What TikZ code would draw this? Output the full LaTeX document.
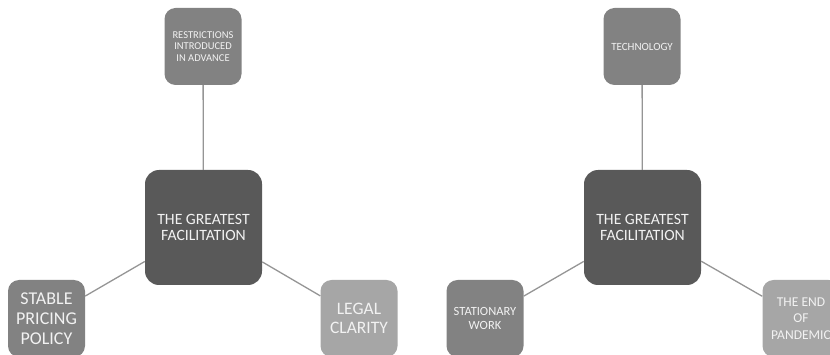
\documentclass[tikz,border=0pt]{standalone}
\usepackage{fontspec}
\setmainfont{Carlito}
\usetikzlibrary{positioning}
\definecolor{hubgray}{HTML}{595959}
\definecolor{midgray}{HTML}{828282}
\definecolor{palegray}{HTML}{A6A6A6}
\definecolor{linkgray}{HTML}{959595}
\definecolor{labelwhite}{HTML}{F2F2F2}

\tikzset{
  hub/.style={fill=hubgray, rounded corners=14pt, minimum width=117pt, minimum height=115pt,
    inner sep=0pt, text=labelwhite, align=center, font=\fontsize{15.7}{16}\selectfont},
  factor/.style={rounded corners=11pt, minimum width=77pt, minimum height=77pt,
    inner sep=0pt, text=labelwhite, align=center},
  link/.style={draw=linkgray, line width=1.3pt}
}

\begin{document}
\begin{tikzpicture}[x=1pt,y=-1pt]
  \useasboundingbox (0,0) rectangle (830,355);
  \clip (0,0) rectangle (830,355);

  % left group
  \node[hub] (hubL) at (203.5,227.5) {THE GREATEST\\FACILITATION};
  \node[factor, fill=midgray, font=\fontsize{10.5}{11.5}\selectfont] (restr) at (203,46.5)
    {RESTRICTIONS\\INTRODUCED\\IN ADVANCE};
  \node[factor, fill=midgray, font=\fontsize{18}{20}\selectfont] (pricing) at (46.5,318.5)
    {STABLE\\PRICING\\POLICY};
  \node[factor, fill=palegray, font=\fontsize{17.5}{19}\selectfont] (legal) at (359,318.5)
    {LEGAL\\CLARITY};

  \draw[link] (hubL) -- (restr);
  \draw[link] (hubL) -- (pricing);
  \draw[link] (hubL) -- (legal);

  % right group
  \node[hub] (hubR) at (642.5,227.5) {THE GREATEST\\FACILITATION};
  \node[factor, fill=midgray, font=\fontsize{11}{12}\selectfont] (tech) at (642,46.5)
    {TECHNOLOGY};
  \node[factor, fill=midgray, font=\fontsize{12.5}{13.5}\selectfont] (stat) at (485,318.5)
    {STATIONARY\\WORK};
  \node[factor, fill=palegray, font=\fontsize{13.5}{16.5}\selectfont] (pandemic) at (801,318.5)
    {THE END\\OF\\PANDEMIC};

  \draw[link] (hubR) -- (tech);
  \draw[link] (hubR) -- (stat);
  \draw[link] (hubR) -- (pandemic);
\end{tikzpicture}
\end{document}
